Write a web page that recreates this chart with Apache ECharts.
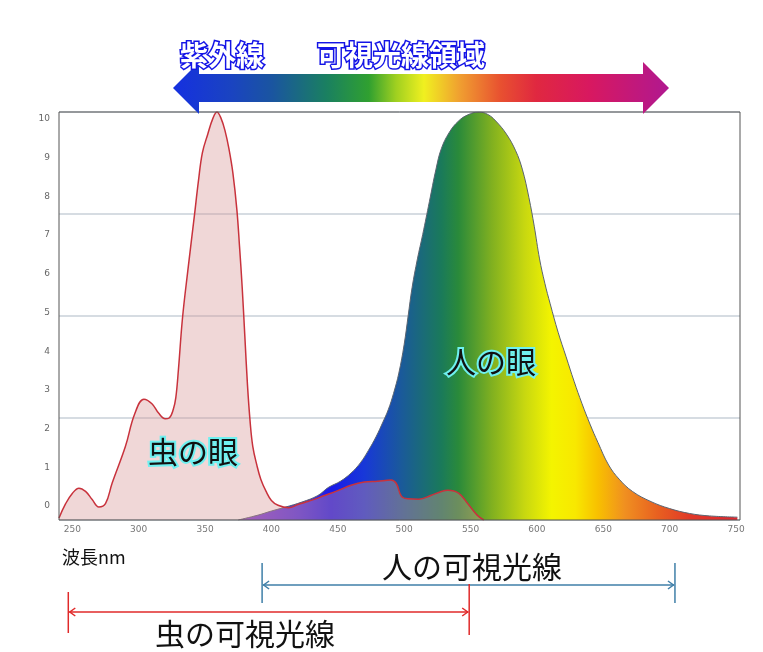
<!DOCTYPE html>
<html><head><meta charset="utf-8">
<script src="https://cdn.jsdelivr.net/npm/echarts@6/dist/echarts.min.js"></script>
<style>html,body{margin:0;padding:0;background:#fff}#c{width:763px;height:652px}</style>
</head><body><div id="c"></div>
<script>
// ---- data ----
const xTicks = [250,300,350,400,450,500,550,600,650,700,750];
const yTickLabels = [0,1,2,3,4,5,6,7,8,9,10];

const insectNm  = [240,245,250,255,260,265,270,275,280,290,297,304,310,315,320,323,326,328,330,333,337,342,345,348,352,356,359,362,365,368,371,374,376,378,380,382,384,386,389,392,396,400,405,413,420,426,430,440,450,460,470,480,490,494,498,503,511,520,528,533,541,548,555,560];
const insectVal = [0.005,0.04,0.065,0.078,0.07,0.05,0.032,0.04,0.09,0.18,0.26,0.296,0.285,0.262,0.248,0.25,0.27,0.30,0.37,0.494,0.61,0.746,0.83,0.90,0.945,0.985,1.0,0.985,0.955,0.91,0.85,0.76,0.67,0.57,0.45,0.33,0.24,0.18,0.135,0.10,0.07,0.048,0.036,0.03,0.038,0.044,0.048,0.06,0.072,0.085,0.093,0.095,0.098,0.09,0.058,0.052,0.051,0.06,0.07,0.073,0.066,0.04,0.012,0.0];

const humanNm  = [375,390,400,410,423,435,443,452,460,467,473,479,484,488,492,496,500,503,506,510,514,519,524,528,534,541,548,556,563,569,577,584,589,594,598,602,606,610,616,622,628,634,640,646,654,662,672,686,700,715,730,751];
const humanVal = [0,0.012,0.022,0.031,0.044,0.06,0.08,0.095,0.115,0.14,0.17,0.205,0.24,0.27,0.31,0.36,0.43,0.50,0.57,0.64,0.70,0.78,0.86,0.91,0.95,0.978,0.993,1.0,0.994,0.978,0.946,0.905,0.86,0.79,0.72,0.64,0.58,0.53,0.46,0.40,0.34,0.285,0.235,0.19,0.135,0.10,0.07,0.045,0.028,0.016,0.01,0.007];

const humanRangeNm  = [393, 704];
const insectRangeNm = [247, 549];

// ---- styles ----
const spectrumNm     = [375,420,445,470,498,528,541,566,591,611,629,646,666,691,716,751];
const spectrumColors = ['#8a40d0','#4a30e0','#1a1ae8','#1838d8','#1a5a9a','#1a7a5a','#2a8a3a','#80b020','#c8d810','#f4f400','#f8e800','#f8c000','#f09020','#e86020','#e03828','#e02830'];
const arrowStops = [[0,'#1530e0'],[0.12,'#1a44c0'],[0.2,'#1a55a0'],[0.31,'#1a8060'],[0.395,'#30a030'],[0.45,'#a0d020'],[0.506,'#f0f020'],[0.577,'#f0a030'],[0.661,'#e85030'],[0.732,'#e02840'],[0.84,'#d81860'],[1,'#b01890']];

const CJK = '"Noto Sans CJK JP", "Noto Sans", sans-serif';
const pairs = (xs, ys) => xs.map((x, i) => [x, ys[i]]);
const hMin = humanNm[0], hMax = humanNm[humanNm.length - 1];
const humanGrad = new echarts.graphic.LinearGradient(0, 0, 1, 0,
  spectrumNm.map((n, i) => ({offset: (n - hMin) / (hMax - hMin), color: spectrumColors[i]})));

const chart = echarts.init(document.getElementById('c'), null, {renderer: 'canvas'});

const option = {
  animation: false,
  backgroundColor: '#fff',
  grid: [
    {left: 59, right: 23, top: 112, bottom: 132, show: true, borderColor: '#555', borderWidth: 1, backgroundColor: 'transparent', z: 5},
    {left: 59, right: 23, top: 119, bottom: 146, show: false}
  ],
  xAxis: [
    {gridIndex: 0, type: 'value', min: 240, max: 753,
     axisLine: {show: false}, axisTick: {show: false}, splitLine: {show: false},
     axisLabel: {customValues: xTicks, fontSize: 9, color: '#777', margin: 5, fontFamily: 'DejaVu Sans'}},
    {gridIndex: 1, type: 'value', min: 0, max: 1, show: false}
  ],
  yAxis: [
    {gridIndex: 0, type: 'value', min: 0, max: 1, interval: 0.25,
     axisLine: {show: false}, axisTick: {show: false}, axisLabel: {show: false},
     splitLine: {show: true, lineStyle: {color: '#c9d1d8', width: 1.5}}},
    {gridIndex: 1, type: 'value', min: 0, max: 10, interval: 1,
     axisLine: {show: false}, axisTick: {show: false}, splitLine: {show: false},
     axisLabel: {customValues: yTickLabels, fontSize: 9, color: '#666', margin: 9, fontFamily: 'DejaVu Sans'}}
  ],
  series: [
    {name: '人の眼', type: 'line', xAxisIndex: 0, yAxisIndex: 0, data: pairs(humanNm, humanVal),
     smooth: 0.4, symbol: 'none', z: 2,
     lineStyle: {color: '#5a6470', width: 1}, areaStyle: {color: humanGrad, opacity: 1}},
    {name: '虫の眼', type: 'line', xAxisIndex: 0, yAxisIndex: 0, data: pairs(insectNm, insectVal),
     smooth: 0.4, symbol: 'none', z: 3,
     lineStyle: {color: '#c8323c', width: 1.5}, areaStyle: {color: 'rgba(215,150,150,0.38)', opacity: 1}}
  ]
};
chart.setOption(option);

function px(nm) { return chart.convertToPixel({xAxisIndex: 0}, nm); }

function bracket(nm0, nm1, yLine, y0a, y1a, y0b, y1b, color) {
  const xa = px(nm0), xb = px(nm1);
  const s = {stroke: color, lineWidth: 1.5};
  return [
    {type: 'line', shape: {x1: xa, y1: y0a, x2: xa, y2: y1a}, style: s},
    {type: 'line', shape: {x1: xb, y1: y0b, x2: xb, y2: y1b}, style: s},
    {type: 'line', shape: {x1: xa + 1, y1: yLine, x2: xb - 1, y2: yLine}, style: s},
    {type: 'polyline', shape: {points: [[xa + 7, yLine - 4], [xa + 1.5, yLine], [xa + 7, yLine + 4]]}, style: s},
    {type: 'polyline', shape: {points: [[xb - 7, yLine - 4], [xb - 1.5, yLine], [xb - 7, yLine + 4]]}, style: s}
  ];
}

const outlinedBlue = {fill: '#ffffff', stroke: '#1414e6', lineWidth: 3, fontSize: 28, fontWeight: 'bold', fontFamily: CJK, align: 'center', verticalAlign: 'middle'};
const glowBlack = {fill: '#111', stroke: '#6ff0f0', lineWidth: 4, fontSize: 30, fontFamily: CJK, align: 'center', verticalAlign: 'middle'};

const graphics = [
  {type: 'polygon', z: 20,
   shape: {points: [[173,88],[199,62],[199,74],[643,74],[643,62],[669,88],[643,114],[643,102],[199,102],[199,114]]},
   style: {fill: new echarts.graphic.LinearGradient(0, 0, 1, 0, arrowStops.map(s => ({offset: s[0], color: s[1]})))}},
  {type: 'text', z: 30, x: 222, y: 55, style: Object.assign({text: '紫外線'}, outlinedBlue)},
  {type: 'text', z: 30, x: 401, y: 55, style: Object.assign({text: '可視光線領域'}, outlinedBlue)},
  {type: 'text', z: 30, x: 193, y: 452, style: Object.assign({text: '虫の眼'}, glowBlack)},
  {type: 'text', z: 30, x: 491, y: 362, style: Object.assign({text: '人の眼'}, glowBlack)},
  {type: 'text', z: 30, x: 62, y: 557, style: {text: '波長nm', fill: '#111', fontSize: 18, fontFamily: CJK, align: 'left', verticalAlign: 'middle'}},
  {type: 'text', z: 30, x: 472, y: 567, style: {text: '人の可視光線', fill: '#111', fontSize: 30, fontFamily: CJK, align: 'center', verticalAlign: 'middle'}},
  {type: 'text', z: 30, x: 245, y: 634, style: {text: '虫の可視光線', fill: '#111', fontSize: 30, fontFamily: CJK, align: 'center', verticalAlign: 'middle'}}
].concat(
  bracket(humanRangeNm[0], humanRangeNm[1], 585, 563, 603, 563, 603, '#3f7fa8'),
  bracket(insectRangeNm[0], insectRangeNm[1], 612, 592, 633, 584, 635, '#e02a2a')
);

chart.setOption({graphic: graphics});
</script>
</body></html>
